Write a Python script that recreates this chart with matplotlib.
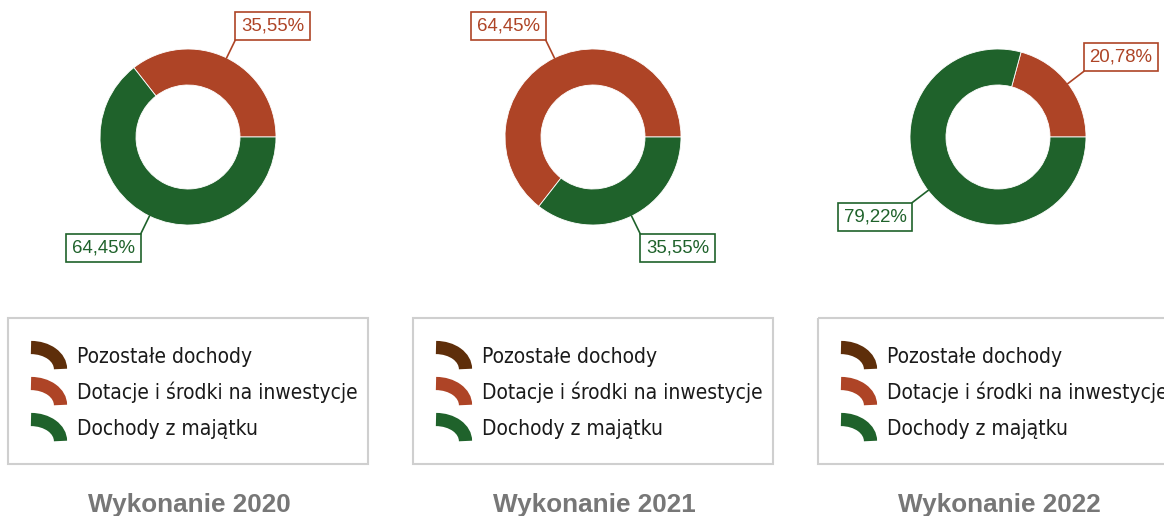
import numpy as np
import matplotlib
matplotlib.use('Agg')
import matplotlib.pyplot as plt
from matplotlib.patches import Rectangle, Arc

# data
categories = ['Pozostałe dochody', 'Dotacje i środki na inwestycje', 'Dochody z majątku']
years = ['2020', '2021', '2022']
pozostale = [0.0, 0.0, 0.0]
dotacje = [35.55, 64.45, 20.78]
majatek = [64.45, 35.55, 79.22]
colors = ['#5E2E0A', '#AE4426', '#1F622B']

W, H = 1164, 516
fig = plt.figure(figsize=(W / 100, H / 100), dpi=100)
fig.patch.set_facecolor('white')

# overlay axes in pixel coords for legends / titles
ov = fig.add_axes([0, 0, 1, 1])
ov.set_xlim(0, W)
ov.set_ylim(H, 0)
ov.axis('off')

R = 88.0        # outer radius px
ring = 36.0     # ring width px
half = 120.0    # half size of pie axes px
cy = 137.0
step = 405.0
cx0 = 188.0

def fmt(v):
    return ('%.2f' % v).replace('.', ',') + '%'

for i, yr in enumerate(years):
    cx = cx0 + step * i
    vals = [pozostale[i], dotacje[i], majatek[i]]
    ax = fig.add_axes([(cx - half) / W, (H - cy - half) / H, 2 * half / W, 2 * half / H])
    ax.pie(vals, colors=colors, startangle=0, counterclock=True, radius=1,
           wedgeprops=dict(width=ring / R, edgecolor='white', linewidth=0.6))
    lim = half / R
    ax.set_xlim(-lim, lim)
    ax.set_ylim(-lim, lim)
    ax.set_aspect('equal')
    ax.axis('off')

    # labels with leader lines
    total = sum(vals)
    cum = 0.0
    for v, c in zip(vals, colors):
        if v > 0:
            ang = np.deg2rad(360.0 * (cum + v / 2) / total)
            ca, sa = np.cos(ang), np.sin(ang)
            r2 = 1 + 20 / R
            ax.plot([ca, r2 * ca], [sa, r2 * sa], color=c, lw=1.2, clip_on=False)
            pad = 5.6 / R
            sx = 1 if ca >= 0 else -1
            sy = 1 if sa >= 0 else -1
            ax.text(r2 * ca + sx * pad, r2 * sa + sy * pad, fmt(v), color=c,
                    fontsize=13.4, family='Liberation Sans',
                    ha='left' if sx > 0 else 'right', va='bottom' if sy > 0 else 'top',
                    bbox=dict(boxstyle='square,pad=0.3', fc='white', ec=c, lw=1.2),
                    clip_on=False)
        cum += v

    # legend box
    lx = cx - 180
    ov.add_patch(Rectangle((lx, 318), 360, 146, fill=False, ec='#cfcfcf', lw=1.5))
    for k, (name, c) in enumerate(zip(categories, colors)):
        by = 369 + 36 * k
        ov.add_patch(Arc((lx + 23, by), 59, 43, theta1=270, theta2=360,
                         color=c, lw=9.5))
        ov.text(lx + 69, by - 6, name, fontsize=15, family='DejaVu Sans',
                fontstretch='condensed', color='#1a1a1a', ha='left', va='baseline')

    ov.text(cx + 1, 512, 'Wykonanie ' + yr, fontsize=18.8, family='Liberation Sans',
            fontweight='bold', color='#777777', ha='center', va='baseline')

fig.savefig('out.png', dpi=100, facecolor='white')
